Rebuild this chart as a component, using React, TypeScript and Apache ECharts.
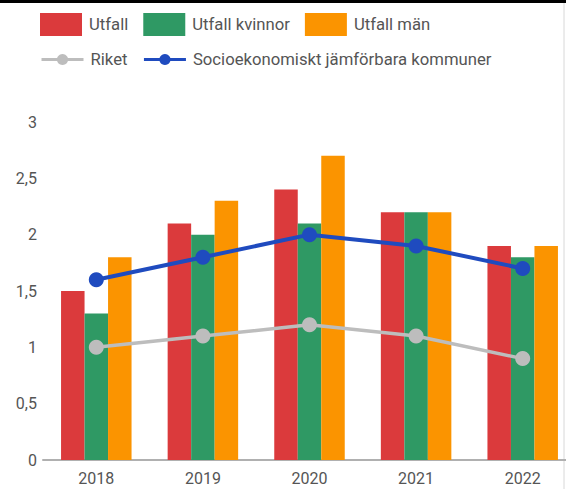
import React, { useEffect, useRef } from "react";
import * as echarts from "echarts";

const categories = ["2018", "2019", "2020", "2021", "2022"];
const utfall = [1.5, 2.1, 2.4, 2.2, 1.9];
const utfallKvinnor = [1.3, 2.0, 2.1, 2.2, 1.8];
const utfallMan = [1.8, 2.3, 2.7, 2.2, 1.9];
const riket = [1.0, 1.1, 1.2, 1.1, 0.9];
const socio = [1.6, 1.8, 2.0, 1.9, 1.7];

const FONT = "Roboto";

export default function App() {
  const ref = useRef<HTMLDivElement>(null);
  useEffect(() => {
    if (!ref.current) return;
    const chart = echarts.init(ref.current, undefined, { renderer: "svg" });
    const legendText = { fontFamily: FONT, fontSize: 16.7, color: "#555555" };
    chart.setOption({
      animation: false,
      backgroundColor: "#ffffff",
      graphic: [
        { type: "rect", shape: { x: 0, y: 0, width: 566, height: 3 }, style: { fill: "#000" } },
        { type: "line", shape: { x1: 564, y1: 3, x2: 564, y2: 489 }, style: { stroke: "#d8d8d8", lineWidth: 1 } },
      ],
      legend: [
        {
          data: ["Utfall", "Utfall kvinnor", "Utfall män"],
          left: 40,
          top: 13,
          padding: 0,
          itemWidth: 42,
          itemHeight: 23,
          itemGap: 15,
          icon: "rect",
          textStyle: { ...legendText, padding: [0, 0, 0, 2] },
        },
        {
          data: ["Riket", "Socioekonomiskt jämförbara kommuner"],
          left: 40,
          top: 51,
          padding: 0,
          itemWidth: 42,
          itemHeight: 14,
          itemGap: 15,
          lineStyle: { width: 3 },
          textStyle: { ...legendText, padding: [0, 0, 0, 2] },
        },
      ],
      grid: { left: 43, top: 122, width: 533, height: 338, outerBoundsMode: "none", containLabel: false },
      xAxis: {
        type: "category",
        data: categories,
        axisLine: { lineStyle: { color: "#b0b0b0", width: 2 } },
        axisTick: { show: false },
        axisLabel: { fontFamily: FONT, fontSize: 16, color: "#555", margin: 10 },
      },
      yAxis: {
        type: "value",
        min: 0,
        max: 3,
        interval: 0.5,
        splitLine: { show: false },
        axisLine: { show: false },
        axisTick: { show: false },
        axisLabel: {
          fontFamily: FONT,
          fontSize: 16,
          color: "#555",
          margin: 6,
          formatter: (v: number) => String(v).replace(".", ","),
        },
      },
      series: [
        { name: "Utfall", type: "bar", data: utfall, barWidth: 23.5, barGap: "0%", itemStyle: { color: "#db3a3c" } },
        { name: "Utfall kvinnor", type: "bar", data: utfallKvinnor, barWidth: 23.5, barGap: "0%", itemStyle: { color: "#2f9964" } },
        { name: "Utfall män", type: "bar", data: utfallMan, barWidth: 23.5, barGap: "0%", itemStyle: { color: "#fb9400" } },
        {
          name: "Riket",
          type: "line",
          data: riket,
          symbol: "circle",
          symbolSize: 15,
          lineStyle: { color: "#bdbdbd", width: 3.5 },
          itemStyle: { color: "#bdbdbd" },
        },
        {
          name: "Socioekonomiskt jämförbara kommuner",
          type: "line",
          data: socio,
          symbol: "circle",
          symbolSize: 15,
          lineStyle: { color: "#1f4bbf", width: 4 },
          itemStyle: { color: "#1f4bbf" },
        },
      ],
    });
    return () => chart.dispose();
  }, []);
  return (
    <div
      ref={ref}
      style={{ position: "fixed", left: 0, top: 0, width: 566, height: 489 }}
    />
  );
}
